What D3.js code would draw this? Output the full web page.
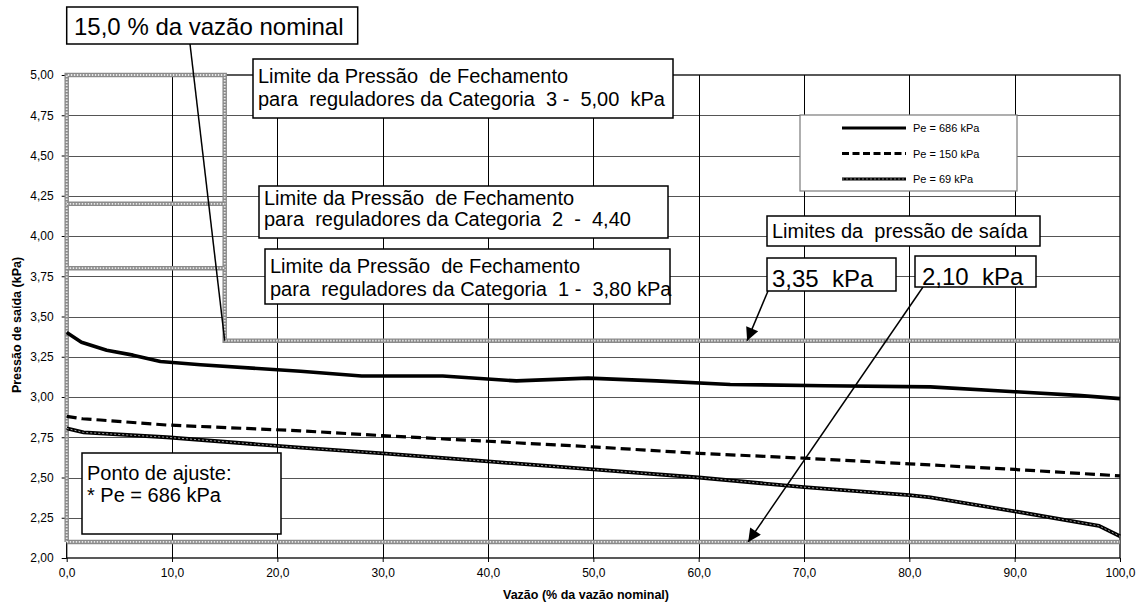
<!DOCTYPE html>
<html>
<head>
<meta charset="utf-8">
<script src="https://cdn.jsdelivr.net/npm/d3@7/dist/d3.min.js"></script>
<style>
  body { margin:0; background:#fff; }
  text { font-family: "Liberation Sans", Arial, sans-serif; fill:#000; }
</style>
</head>
<body>
<script>
// valores
var vazao686 = [0, 1.4, 3.8, 6.3, 8.9, 12.7, 22.2, 28, 35.7, 42.7, 49.5, 56, 63, 72, 82, 90, 96, 100];
var pres686  = [3.40, 3.34, 3.29, 3.26, 3.22, 3.20, 3.16, 3.13, 3.13, 3.10, 3.117, 3.10, 3.078, 3.07, 3.063, 3.033, 3.01, 2.99];

var vazao150 = [0, 1.5, 3.2, 9.5, 22.2, 30, 40, 50, 60, 70, 80, 90, 100];
var pres150  = [2.88, 2.865, 2.857, 2.826, 2.79, 2.76, 2.725, 2.69, 2.65, 2.62, 2.585, 2.55, 2.51];

var vazao69 = [0, 1.6, 9.5, 22.2, 30, 40, 50, 60, 70, 80, 82, 90, 98, 100];
var pres69  = [2.805, 2.78, 2.75, 2.685, 2.65, 2.60, 2.55, 2.50, 2.44, 2.39, 2.377, 2.29, 2.20, 2.135];

var xTicks = [0, 10, 20, 30, 40, 50, 60, 70, 80, 90, 100];
var yTicks = [2.00, 2.25, 2.50, 2.75, 3.00, 3.25, 3.50, 3.75, 4.00, 4.25, 4.50, 4.75, 5.00];

var legendLabels = ["Pe = 686 kPa", "Pe = 150 kPa", "Pe = 69 kPa"];

// limites (linhas cinzas duplas)
var limitePath = [[0, 2.10], [0, 5.00], [15, 5.00], [15, 3.35], [100, 3.35]];
var limite42 = [[0, 4.20], [15, 4.20]];
var limite38 = [[0, 3.80], [15, 3.80]];
var limite21 = [[0, 2.10], [100, 2.10]];

var svg = d3.select("body").append("svg")
  .attr("width", 1141)
  .attr("height", 606);

var x = d3.scaleLinear().domain([0, 100]).range([66.7, 1120]);
var y = d3.scaleLinear().domain([2, 5]).range([558, 75]);

var virg = function(s) { return s.replace(".", ","); };

// grade
svg.append("g").selectAll("line").data(yTicks.slice(1, -1)).enter()
  .append("line")
  .attr("x1", x(0)).attr("x2", x(100))
  .attr("y1", function(d) { return Math.round(y(d)) + 0.5; })
  .attr("y2", function(d) { return Math.round(y(d)) + 0.5; })
  .style("stroke", "#555").style("stroke-width", 1);

svg.append("g").selectAll("line").data(xTicks.slice(1, -1)).enter()
  .append("line")
  .attr("y1", y(2)).attr("y2", y(5))
  .attr("x1", function(d) { return Math.round(x(d)) + 0.5; })
  .attr("x2", function(d) { return Math.round(x(d)) + 0.5; })
  .style("stroke", "#000").style("stroke-width", 1);

svg.append("rect")
  .attr("x", x(0)).attr("y", y(5))
  .attr("width", x(100) - x(0)).attr("height", y(2) - y(5))
  .style("fill", "none").style("stroke", "#000").style("stroke-width", 1.3);

// eixos
var yAxis = d3.axisLeft(y).tickValues(yTicks).tickSize(5).tickPadding(8)
  .tickFormat(function(d) { return virg(d.toFixed(2)); });
var gy = svg.append("g").attr("transform", "translate(" + x(0) + ",0)").call(yAxis);
gy.select(".domain").remove();
gy.selectAll("text").style("font-size", "12px").style("font-family", "Liberation Sans, Arial, sans-serif");

var xAxis = d3.axisBottom(x).tickValues(xTicks).tickSize(4).tickPadding(6)
  .tickFormat(function(d) { return virg(d.toFixed(1)); });
var gx = svg.append("g").attr("transform", "translate(0," + y(2) + ")").call(xAxis);
gx.select(".domain").remove();
gx.selectAll("text").style("font-size", "12px").style("font-family", "Liberation Sans, Arial, sans-serif");

svg.append("text")
  .attr("transform", "translate(21,325) rotate(-90)")
  .attr("text-anchor", "middle")
  .style("font-size", "12.5px").style("font-weight", "bold")
  .text("Pressão de saída (kPa)");

svg.append("text")
  .attr("x", 586).attr("y", 599)
  .attr("text-anchor", "middle")
  .style("font-size", "12.5px").style("font-weight", "bold")
  .text("Vazão (% da vazão nominal)");

// linhas de limite
var lim = d3.line().x(function(d) { return x(d[0]); }).y(function(d) { return y(d[1]); });
[limitePath, limite42, limite38, limite21].forEach(function(p) {
  svg.append("path").attr("d", lim(p))
    .style("fill", "none").style("stroke", "#8a8a8a").style("stroke-width", 4.5);
  svg.append("path").attr("d", lim(p))
    .style("fill", "none").style("stroke", "#e8e8e8").style("stroke-width", 1.8)
    .style("stroke-dasharray", "1.5,1.5");
});

// séries
var line = d3.line()
  .x(function(d) { return x(d[0]); })
  .y(function(d) { return y(d[1]); });

var s686 = d3.zip(vazao686, pres686);
var s150 = d3.zip(vazao150, pres150);
var s69 = d3.zip(vazao69, pres69);

svg.append("path").attr("d", line(s69))
  .style("fill", "none").style("stroke", "#000").style("stroke-width", 3.8);
svg.append("path").attr("d", line(s69))
  .style("fill", "none").style("stroke", "#9a9a9a").style("stroke-width", 1)
  .style("stroke-dasharray", "2,2");

svg.append("path").attr("d", line(s150))
  .style("fill", "none").style("stroke", "#000").style("stroke-width", 3.2)
  .style("stroke-dasharray", "10,5");

svg.append("path").attr("d", line(s686))
  .style("fill", "none").style("stroke", "#000").style("stroke-width", 3.6)
  .style("stroke-linejoin", "round");

// legenda
var leg = svg.append("g");
leg.append("rect").attr("x", 800).attr("y", 115).attr("width", 217).attr("height", 76)
  .style("fill", "#fff").style("stroke", "#7a7a7a").style("stroke-width", 1.2);
var legStyles = [
  { w: 3.2, dash: null },
  { w: 3, dash: "7,3.5" },
  { w: 3, dash: null, inner: true }
];
legendLabels.forEach(function(t, i) {
  var yy = 128 + i * 25.5;
  var l = leg.append("line").attr("x1", 842).attr("x2", 906).attr("y1", yy).attr("y2", yy)
    .style("stroke", "#000").style("stroke-width", legStyles[i].w);
  if (legStyles[i].dash) l.style("stroke-dasharray", legStyles[i].dash);
  if (legStyles[i].inner) {
    leg.append("line").attr("x1", 842).attr("x2", 906).attr("y1", yy).attr("y2", yy)
      .style("stroke", "#999").style("stroke-width", 0.8).style("stroke-dasharray", "2,2");
  }
  leg.append("text").attr("x", 913).attr("y", yy + 4)
    .style("font-size", "11px").text(t);
});

// caixas de texto
function caixa(x0, y0, w, h, linhas, fs, tx, b1, passo) {
  var g = svg.append("g");
  g.append("rect").attr("x", x0).attr("y", y0).attr("width", w).attr("height", h)
    .style("fill", "#fff").style("stroke", "#000").style("stroke-width", 1.5);
  linhas.forEach(function(t, i) {
    g.append("text").attr("x", tx).attr("y", b1 + i * passo)
      .style("font-size", fs + "px").style("white-space", "pre")
      .attr("xml:space", "preserve").text(t);
  });
}

// setas / linhas de chamada
svg.append("defs").append("marker")
  .attr("id", "seta").attr("viewBox", "0 0 10 10")
  .attr("refX", 10).attr("refY", 5)
  .attr("markerWidth", 17).attr("markerHeight", 13)
  .attr("markerUnits", "userSpaceOnUse")
  .attr("orient", "auto")
  .append("path").attr("d", "M0,0L10,5L0,10Z").style("fill", "#000");

svg.append("line").attr("x1", 190).attr("y1", 44).attr("x2", x(15)).attr("y2", y(3.35))
  .style("stroke", "#000").style("stroke-width", 1.5);
svg.append("line").attr("x1", 768).attr("y1", 291).attr("x2", x(64.6)).attr("y2", y(3.35))
  .style("stroke", "#000").style("stroke-width", 1.5).attr("marker-end", "url(#seta)");
svg.append("line").attr("x1", 923).attr("y1", 287).attr("x2", x(64.7)).attr("y2", y(2.10))
  .style("stroke", "#000").style("stroke-width", 1.5).attr("marker-end", "url(#seta)");

caixa(66.7, 7, 291, 37, ["15,0 % da vazão nominal"], 24, 74, 35, 0);
caixa(253, 59, 420, 59, ["Limite da Pressão  de Fechamento", "para  reguladores da Categoria  3 -  5,00  kPa"], 20, 258, 83, 23);
caixa(259, 186, 409, 52, ["Limite da Pressão  de Fechamento", "para  reguladores da Categoria  2  -  4,40"], 20, 264, 205, 21);
caixa(265, 249, 405, 55, ["Limite da Pressão  de Fechamento", "para  reguladores da Categoria  1 -  3,80 kPa"], 20, 270, 273, 23);
caixa(767, 216, 273, 30, ["Limites da  pressão de saída"], 20, 772, 238, 0);
caixa(767, 258, 129, 33, ["3,35  kPa"], 24, 772, 287, 0);
caixa(915, 256, 121, 31, ["2,10  kPa"], 24, 922, 285, 0);
caixa(82, 453, 199, 81, ["Ponto de ajuste:", "* Pe = 686 kPa"], 20, 87, 480, 22);
</script>
</body>
</html>
